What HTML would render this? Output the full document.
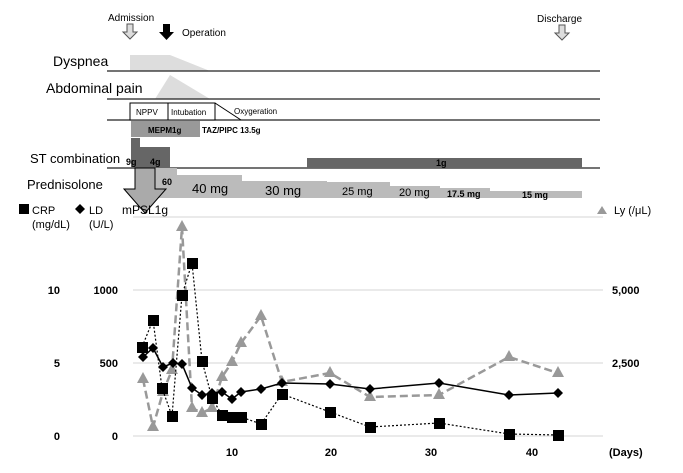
<!DOCTYPE html>
<html><head><style>body{margin:0;background:#fff}</style></head><body>
<svg width="683" height="468" xmlns="http://www.w3.org/2000/svg" font-family="Liberation Sans, sans-serif" font-weight="bold">
<rect width="683" height="468" fill="#fff"/>
<text x="108" y="21" font-size="10" font-weight="normal">Admission</text>
<path d="M127,24h6v8h4l-7,7l-7,-7h4z" fill="#ddd" stroke="#555"/>
<path d="M163,24h7v8h4l-7.5,8l-7.5,-8h4z" fill="#000"/>
<text x="182" y="36" font-size="10" font-weight="normal">Operation</text>
<text x="537" y="22" font-size="10" font-weight="normal">Discharge</text>
<path d="M559,25h6v8h4l-7,7l-7,-7h4z" fill="#ddd" stroke="#555"/>
<path d="M130,71V55H170L210,71Z" fill="#ddd"/>
<path d="M155,99L170,75L210,99Z" fill="#ddd"/>
<text x="53" y="66" font-size="14" font-weight="normal">Dyspnea</text>
<text x="46" y="93" font-size="14" font-weight="normal">Abdominal pain</text>
<g stroke="#222" stroke-width="1.3"><line x1="107" y1="71" x2="600" y2="71"/><line x1="107" y1="99" x2="600" y2="99"/><line x1="107" y1="120" x2="600" y2="120"/><line x1="107" y1="168" x2="600" y2="168"/></g>
<rect x="130" y="103" width="38" height="17" fill="#fff" stroke="#000"/>
<rect x="168" y="103" width="47" height="17" fill="#fff" stroke="#000"/>
<line x1="215" y1="103" x2="241" y2="120" stroke="#000"/>
<text x="136" y="115" font-size="8" font-weight="normal">NPPV</text>
<text x="171" y="115" font-size="8" font-weight="normal">Intubation</text>
<text x="234" y="114" font-size="8" font-weight="normal">Oxygeration</text>
<rect x="131" y="121" width="69" height="16" fill="#999"/>
<text x="148" y="133" font-size="8">MEPM1g</text>
<text x="202" y="133" font-size="8">TAZ/PIPC 13.5g</text>
<rect x="131" y="138" width="9" height="30" fill="#666"/>
<rect x="140" y="147" width="30" height="21" fill="#666"/>
<rect x="307" y="158" width="275" height="10" fill="#666"/>
<text x="126" y="165" font-size="9">9g</text>
<text x="150" y="165" font-size="9">4g</text>
<text x="436" y="166" font-size="9">1g</text>
<text x="30" y="163" font-size="13" font-weight="normal">ST combination</text>
<text x="27" y="189" font-size="13" font-weight="normal">Prednisolone</text>
<g fill="#bbb"><rect x="155" y="168" width="22" height="30"/><rect x="177" y="175" width="65" height="23"/><rect x="242" y="181" width="85" height="17"/><rect x="327" y="182" width="63" height="16"/><rect x="390" y="186" width="50" height="12"/><rect x="440" y="188" width="50" height="10"/><rect x="490" y="191" width="92" height="7"/></g>
<text x="162" y="185" font-size="9">60</text>
<text x="192" y="193" font-size="13" font-weight="normal">40 mg</text>
<text x="265" y="195" font-size="13" font-weight="normal">30 mg</text>
<text x="342" y="195" font-size="11" font-weight="normal">25 mg</text>
<text x="399" y="196" font-size="11" font-weight="normal">20 mg</text>
<text x="447" y="197" font-size="9">17.5 mg</text>
<text x="522" y="198" font-size="9">15 mg</text>
<path d="M135,168h20v21h11l-21,24l-21,-24h11z" fill="#aaa" stroke="#000"/>
<text x="122" y="214" font-size="12" font-weight="normal">mPSL1g</text>
<rect x="19" y="204" width="10" height="10" fill="#000"/>
<text x="32" y="214" font-size="11" font-weight="normal">CRP</text>
<text x="32" y="228" font-size="11" font-weight="normal">(mg/dL)</text>
<path d="M80,204l5,5l-5,5l-5,-5z" fill="#000"/>
<text x="89" y="214" font-size="11" font-weight="normal">LD</text>
<text x="89" y="228" font-size="11" font-weight="normal">(U/L)</text>
<path d="M597,214l5,-8l5,8z" fill="#999"/>
<text x="614" y="214" font-size="11" font-weight="normal">Ly (/μL)</text>
<g stroke="#ddd" stroke-width="1.2"><line x1="133" y1="217" x2="603" y2="217"/><line x1="133" y1="290" x2="603" y2="290"/><line x1="133" y1="363" x2="603" y2="363"/><line x1="133" y1="436" x2="603" y2="436"/></g>
<g font-size="11" text-anchor="end"><text x="60" y="294">10</text><text x="60" y="367">5</text><text x="60" y="440">0</text><text x="118" y="294">1000</text><text x="118" y="367">500</text><text x="118" y="440">0</text></g>
<g font-size="11"><text x="612" y="294">5,000</text><text x="612" y="367">2,500</text><text x="609" y="456">(Days)</text></g>
<g font-size="11" text-anchor="middle"><text x="232" y="456">10</text><text x="331" y="456">20</text><text x="431" y="456">30</text><text x="532" y="456">40</text></g>
<polyline points="143,379 153,427 163,392 172,370 182,227 192,408 202,413 212,408 222,377 232,362 241,343 261,316 282,382 330,373 370,397 439,395 509,357 558,373" fill="none" stroke="#999" stroke-width="2.5" stroke-dasharray="8,4"/>
<g fill="#999"><path d="M0,-7l6,11h-12z" transform="translate(143,379)"/>
<path d="M0,-7l6,11h-12z" transform="translate(153,427)"/><path d="M0,-7l6,11h-12z" transform="translate(163,392)"/><path d="M0,-7l6,11h-12z" transform="translate(172,370)"/><path d="M0,-7l6,11h-12z" transform="translate(182,227)"/><path d="M0,-7l6,11h-12z" transform="translate(192,408)"/><path d="M0,-7l6,11h-12z" transform="translate(202,413)"/><path d="M0,-7l6,11h-12z" transform="translate(212,408)"/><path d="M0,-7l6,11h-12z" transform="translate(222,377)"/><path d="M0,-7l6,11h-12z" transform="translate(232,362)"/><path d="M0,-7l6,11h-12z" transform="translate(241,343)"/><path d="M0,-7l6,11h-12z" transform="translate(261,316)"/><path d="M0,-7l6,11h-12z" transform="translate(282,382)"/><path d="M0,-7l6,11h-12z" transform="translate(330,373)"/><path d="M0,-7l6,11h-12z" transform="translate(370,397)"/><path d="M0,-7l6,11h-12z" transform="translate(439,395)"/><path d="M0,-7l6,11h-12z" transform="translate(509,357)"/><path d="M0,-7l6,11h-12z" transform="translate(558,373)"/></g>
<polyline points="142,347 153,320 162,388 172,416 182,295 192,263 202,361 212,398 222,415 232,417 241,417 261,424 282,394 330,412 370,427 439,423 509,434 558,435" fill="none" stroke="#000" stroke-width="1.2" stroke-dasharray="2,2"/>
<g fill="#000"><rect x="137" y="342" width="11" height="11"/><rect x="148" y="315" width="11" height="11"/><rect x="157" y="383" width="11" height="11"/><rect x="167" y="411" width="11" height="11"/><rect x="177" y="290" width="11" height="11"/><rect x="187" y="258" width="11" height="11"/><rect x="197" y="356" width="11" height="11"/><rect x="207" y="393" width="11" height="11"/><rect x="217" y="410" width="11" height="11"/><rect x="227" y="412" width="11" height="11"/><rect x="236" y="412" width="11" height="11"/><rect x="256" y="419" width="11" height="11"/><rect x="277" y="389" width="11" height="11"/><rect x="325" y="407" width="11" height="11"/><rect x="365" y="422" width="11" height="11"/><rect x="434" y="418" width="11" height="11"/><rect x="504" y="429" width="11" height="11"/><rect x="553" y="430" width="11" height="11"/></g>
<polyline points="143,357 153,348 163,367 173,363 182,364 192,388 202,395 212,393 222,392 232,399 241,392 261,389 282,383 330,384 370,389 439,383 509,395 558,393" fill="none" stroke="#000" stroke-width="1.5"/>
<g fill="#000"><path d="M143,352l5,5l-5,5l-5,-5z"/><path d="M153,343l5,5l-5,5l-5,-5z"/><path d="M163,362l5,5l-5,5l-5,-5z"/><path d="M173,358l5,5l-5,5l-5,-5z"/><path d="M182,359l5,5l-5,5l-5,-5z"/><path d="M192,383l5,5l-5,5l-5,-5z"/><path d="M202,390l5,5l-5,5l-5,-5z"/><path d="M212,388l5,5l-5,5l-5,-5z"/><path d="M222,387l5,5l-5,5l-5,-5z"/><path d="M232,394l5,5l-5,5l-5,-5z"/><path d="M241,387l5,5l-5,5l-5,-5z"/><path d="M261,384l5,5l-5,5l-5,-5z"/><path d="M282,378l5,5l-5,5l-5,-5z"/><path d="M330,379l5,5l-5,5l-5,-5z"/><path d="M370,384l5,5l-5,5l-5,-5z"/><path d="M439,378l5,5l-5,5l-5,-5z"/><path d="M509,390l5,5l-5,5l-5,-5z"/><path d="M558,388l5,5l-5,5l-5,-5z"/></g>
</svg>
</body></html>
